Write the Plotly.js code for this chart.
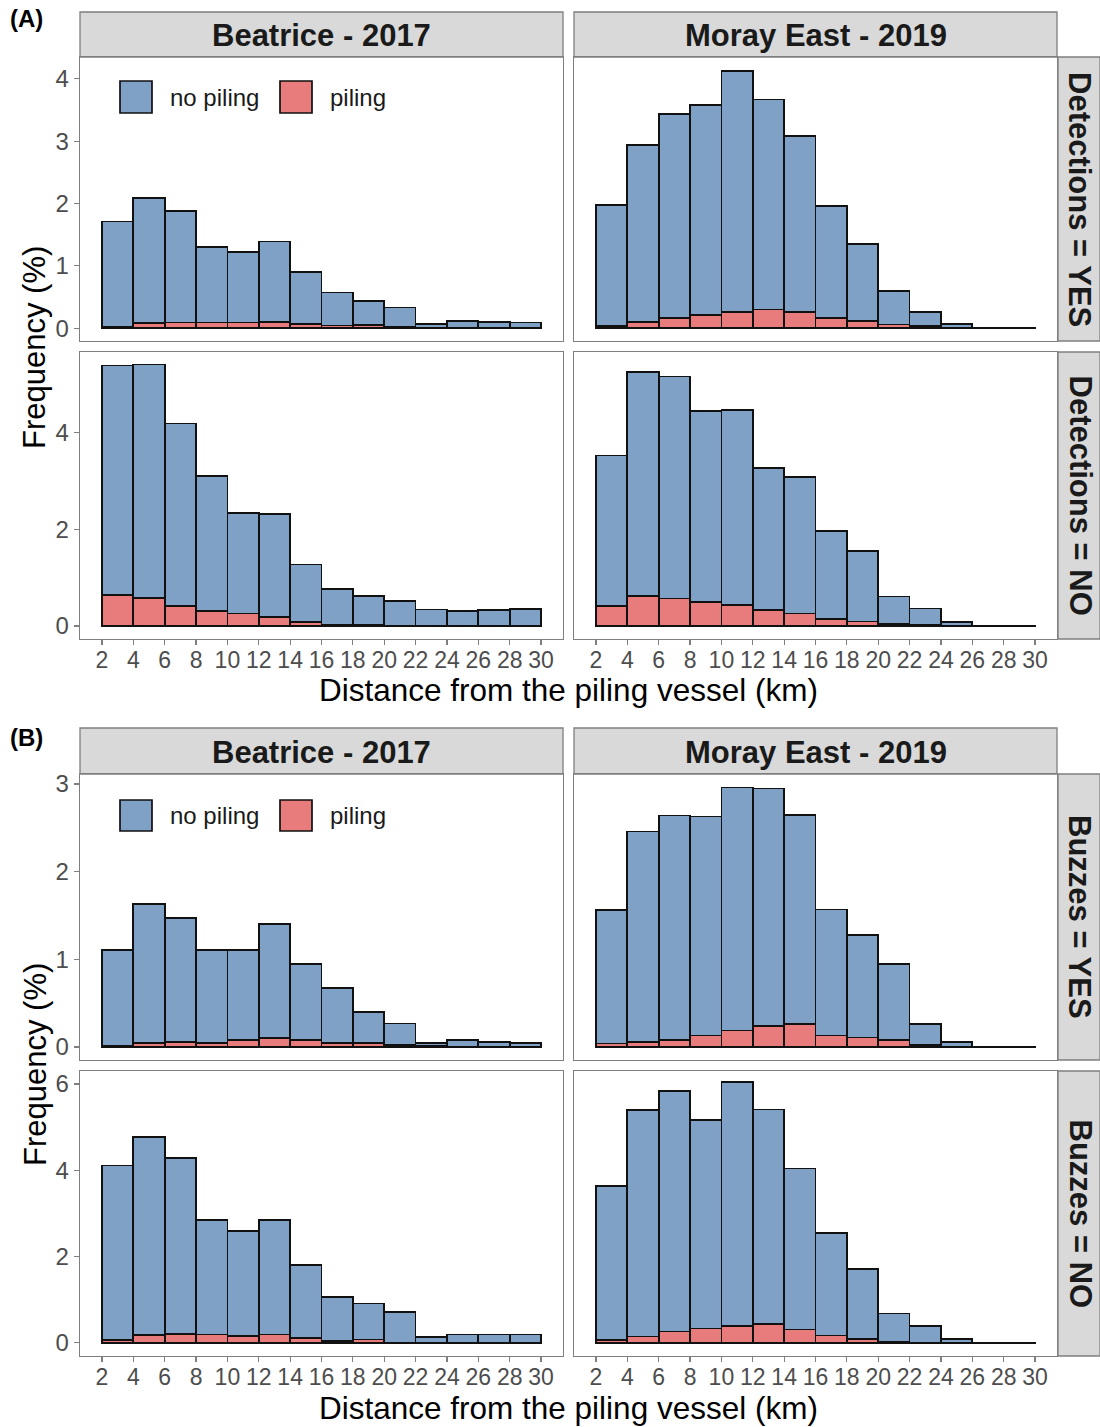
<!DOCTYPE html>
<html>
<head>
<meta charset="utf-8">
<script src="https://cdn.plot.ly/plotly-3.0.1.min.js"></script>
<style>
html,body{margin:0;padding:0;background:#fff;}
#chart{width:1100px;height:1427px;}
</style>
</head>
<body>
<div id="chart"></div>
<script>
// ---- Data (frequency %, 2-km distance bins from 2 to 30 km) ----
const binCenters = [3,5,7,9,11,13,15,17,19,21,23,25,27,29];
const xTickVals = [2,4,6,8,10,12,14,16,18,20,22,24,26,28,30];
const sites = ["Beatrice - 2017", "Moray East - 2019"];
const groupLabels = ["no piling", "piling"];

// (A) Detections = YES
const detYesBeatNoPiling  = [1.69,2.01,1.79,1.21,1.13,1.29,0.83,0.53,0.39,0.31,0.06,0.105,0.10,0.09];
const detYesBeatPiling    = [0.02,0.08,0.09,0.09,0.09,0.10,0.07,0.04,0.05,0.02,0.01,0.005,0,0];
const detYesMorayNoPiling = [1.95,2.84,3.27,3.37,3.87,3.37,2.82,1.80,1.24,0.54,0.23,0.06,0.01,0.005];
const detYesMorayPiling   = [0.03,0.10,0.16,0.21,0.26,0.30,0.26,0.16,0.11,0.06,0.03,0.01,0,0];
// (A) Detections = NO
const detNoBeatNoPiling   = [4.75,4.83,3.77,2.79,2.08,2.13,1.19,0.75,0.60,0.51,0.34,0.31,0.33,0.35];
const detNoBeatPiling     = [0.64,0.58,0.42,0.31,0.26,0.19,0.08,0.02,0.02,0.01,0,0,0,0];
const detNoMorayNoPiling  = [3.11,4.63,4.59,3.96,4.04,2.94,2.82,1.83,1.46,0.57,0.34,0.08,0.005,0.005];
const detNoMorayPiling    = [0.42,0.62,0.57,0.49,0.43,0.33,0.26,0.14,0.09,0.04,0.02,0,0,0];
// (B) Buzzes = YES
const buzYesBeatNoPiling  = [1.10,1.58,1.41,1.06,1.03,1.30,0.87,0.62,0.35,0.25,0.04,0.08,0.06,0.05];
const buzYesBeatPiling    = [0.01,0.05,0.06,0.05,0.08,0.10,0.08,0.05,0.05,0.02,0.01,0,0,0];
const buzYesMorayNoPiling = [1.52,2.40,2.56,2.50,2.77,2.71,2.39,1.44,1.17,0.87,0.24,0.06,0.005,0.005];
const buzYesMorayPiling   = [0.04,0.06,0.08,0.13,0.19,0.24,0.26,0.13,0.11,0.08,0.02,0,0,0];
// (B) Buzzes = NO
const buzNoBeatNoPiling   = [4.05,4.59,4.09,2.66,2.43,2.66,1.69,1.01,0.83,0.70,0.13,0.19,0.19,0.19];
const buzNoBeatPiling     = [0.06,0.18,0.20,0.19,0.16,0.19,0.12,0.05,0.08,0.01,0,0,0,0];
const buzNoMorayNoPiling  = [3.57,5.25,5.57,4.83,5.65,4.98,3.73,2.37,1.62,0.65,0.38,0.09,0.005,0.005];
const buzNoMorayPiling    = [0.06,0.15,0.26,0.33,0.39,0.43,0.31,0.17,0.09,0.03,0.01,0,0,0];

const rowLabels = ["Detections = YES","Detections = NO","Buzzes = YES","Buzzes = NO"];
const yTicksA1 = [0,1,2,3,4];
const yTicksA2 = [0,2,4];
const yTicksB1 = [0,1,2,3];
const yTicksB2 = [0,2,4,6];

// ---- Layout geometry (pixels) ----
const W = 1100, H = 1427;
const colX = [[80,563],[574,1057]];
const rowY = [[57,341],[352,639],[774,1060],[1071,1356]];
const yRanges = [[-0.207,4.35],[-0.27,5.67],[-0.148,3.115],[-0.305,6.30]];
const yTicks = [yTicksA1,yTicksA2,yTicksB1,yTicksB2];
const panels = [
  [[detYesBeatNoPiling,detYesBeatPiling],[detYesMorayNoPiling,detYesMorayPiling]],
  [[detNoBeatNoPiling,detNoBeatPiling],[detNoMorayNoPiling,detNoMorayPiling]],
  [[buzYesBeatNoPiling,buzYesBeatPiling],[buzYesMorayNoPiling,buzYesMorayPiling]],
  [[buzNoBeatNoPiling,buzNoBeatPiling],[buzNoMorayNoPiling,buzNoMorayPiling]]
];

const BLUE = "#7fa1c6", RED = "#e87b7b", BORDER = "#7f7f7f", STRIP = "#d9d9d9";
const FONT = "Liberation Sans, Arial, sans-serif";
const px = x => x / W;
const py = y => 1 - y / H;

const traces = [];
const layout = {
  width: W, height: H,
  margin: {l:0, r:0, t:0, b:0},
  paper_bgcolor: "#fff", plot_bgcolor: "#fff",
  barmode: "stack", bargap: 0,
  showlegend: false,
  font: {family: FONT},
  shapes: [], annotations: []
};

let k = 0;
for (let r = 0; r < 4; r++) {
  for (let c = 0; c < 2; c++) {
    k++;
    const xa = "x" + (k === 1 ? "" : k), ya = "y" + (k === 1 ? "" : k);
    const xKey = "xaxis" + (k === 1 ? "" : k), yKey = "yaxis" + (k === 1 ? "" : k);
    const [noP, pil] = panels[r][c];
    traces.push({type:"bar", x: binCenters, y: pil, width: 2, xaxis: xa, yaxis: ya,
      name: groupLabels[1], marker:{color: RED, line:{color:"#111", width:1.7}}, hoverinfo:"x+y+name"});
    traces.push({type:"bar", x: binCenters, y: noP, width: 2, xaxis: xa, yaxis: ya,
      name: groupLabels[0], marker:{color: BLUE, line:{color:"#111", width:1.7}}, hoverinfo:"x+y+name"});
    const bottomRow = (r === 1 || r === 3);
    layout[xKey] = {
      domain: [px(colX[c][0]), px(colX[c][1])], anchor: ya,
      range: [0.6, 31.4], tickvals: xTickVals, ticktext: xTickVals.map(String),
      showticklabels: bottomRow, ticks: bottomRow ? "outside" : "", ticklen: 5, tickwidth: 1.2,
      ticklabelstandoff: -5,
      tickcolor: BORDER, tickfont: {size: 23, color: "#4d4d4d", family: FONT},
      showgrid: false, zeroline: false, showline: true, mirror: true,
      linecolor: BORDER, linewidth: 1.3, fixedrange: true
    };
    layout[yKey] = {
      domain: [py(rowY[r][1]), py(rowY[r][0])], anchor: xa,
      range: yRanges[r], tickvals: yTicks[r], ticktext: yTicks[r].map(String),
      showticklabels: c === 0, ticks: c === 0 ? "outside" : "", ticklen: 5, tickwidth: 1.2,
      tickcolor: BORDER, tickfont: {size: 24, color: "#4d4d4d", family: FONT},
      showgrid: false, zeroline: false, showline: true, mirror: true,
      linecolor: BORDER, linewidth: 1.3, fixedrange: true
    };
  }
  // right strip
  layout.shapes.push({type:"rect", xref:"paper", yref:"paper", x0: px(1058), x1: px(1100), y0: py(rowY[r][1]), y1: py(rowY[r][0]),
    fillcolor: STRIP, line:{color: BORDER, width: 1.3}, layer:"below"});
  layout.annotations.push({xref:"paper", yref:"paper", x: px(1080), y: py((rowY[r][0]+rowY[r][1])/2),
    text: "<b>" + rowLabels[r] + "</b>", textangle: 90, showarrow: false,
    font:{size: 31, color:"#1a1a1a", family: FONT}, xanchor:"center", yanchor:"middle"});
}

// top strips, section labels, axis titles, legends
const sections = [
  {label:"(A)", stripY:[12,57], labelY:19, titleY:690, freqY:348, legY:[81,113]},
  {label:"(B)", stripY:[728,774], labelY:737, titleY:1408, freqY:1065, legY:[800,831]}
];
sections.forEach(s => {
  for (let c = 0; c < 2; c++) {
    layout.shapes.push({type:"rect", xref:"paper", yref:"paper", x0: px(colX[c][0]), x1: px(colX[c][1]),
      y0: py(s.stripY[1]), y1: py(s.stripY[0]), fillcolor: STRIP, line:{color: BORDER, width:1.3}, layer:"below"});
    layout.annotations.push({xref:"paper", yref:"paper", x: px((colX[c][0]+colX[c][1])/2), y: py((s.stripY[0]+s.stripY[1])/2 + 1),
      text: "<b>" + sites[c] + "</b>", showarrow:false, font:{size:31, color:"#1a1a1a", family: FONT},
      xanchor:"center", yanchor:"middle"});
  }
  layout.annotations.push({xref:"paper", yref:"paper", x: px(8), y: py(s.labelY), text:"<b>" + s.label + "</b>",
    showarrow:false, font:{size:24, color:"#000", family: FONT}, xanchor:"left", yanchor:"middle"});
  layout.annotations.push({xref:"paper", yref:"paper", x: px(569), y: py(s.titleY), text:"Distance from the piling vessel (km)",
    showarrow:false, font:{size:31.5, color:"#000", family: FONT}, xanchor:"center", yanchor:"middle"});
  layout.annotations.push({xref:"paper", yref:"paper", x: px(35), y: py(s.freqY), text:"Frequency (%)", textangle:-90,
    showarrow:false, font:{size:31, color:"#000", family: FONT}, xanchor:"center", yanchor:"middle"});
  // legend keys
  const keys = [{x0:120, x1:152, color:BLUE, text:groupLabels[0], tx:168}, {x0:280, x1:312, color:RED, text:groupLabels[1], tx:328}];
  keys.forEach(kk => {
    layout.shapes.push({type:"rect", xref:"paper", yref:"paper", x0:px(kk.x0), x1:px(kk.x1), y0:py(s.legY[1]), y1:py(s.legY[0]),
      fillcolor: kk.color, line:{color:"#111", width:1.7}});
    layout.annotations.push({xref:"paper", yref:"paper", x:px(kk.tx), y:py((s.legY[0]+s.legY[1])/2), text: kk.text,
      showarrow:false, font:{size:24, color:"#1a1a1a", family: FONT}, xanchor:"left", yanchor:"middle"});
  });
});

Plotly.newPlot("chart", traces, layout, {displayModeBar:false, staticPlot:true});
</script>
</body>
</html>
